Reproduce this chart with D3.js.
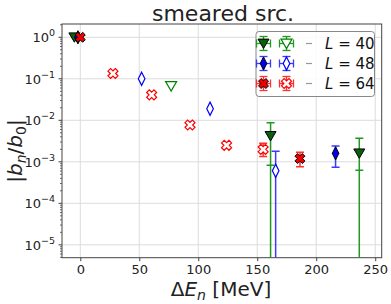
<!DOCTYPE html>
<html><head><meta charset="utf-8">
<script src="https://cdn.jsdelivr.net/npm/d3@7"></script>
<style>body{margin:0;background:#fff}svg{display:block;font-family:"DejaVu Sans",sans-serif}</style>
</head><body><svg id="c" width="391" height="304"></svg>
<script>
// ---- data ----
const xTicks = [0, 50, 100, 150, 200, 250];
const yTicksExp = [0, -1, -2, -3, -4, -5];
const seriesNames = ["40", "48", "64"];
// filled points: [dE, value, errLo, errHi, toBottom]
const L40_filled = [[-5, 1.0, null, null, 0], [161.3, 0.0042, 0.00083, 0.0087, 1], [236.5, 0.0016, 0.00063, 0.0037, 1]];
const L40_open = [[77, 0.067, null, null, 0]];
const L48_filled = [[-2, 1.0, null, null, 0], [216.4, 0.0016, 0.00074, 0.0024, 0]];
const L48_open = [[52, 0.1, null, null, 0], [110, 0.019, null, null, 0], [165.6, 0.00061, null, 0.0018, 1]];
const L64_filled = [[0, 1.0, null, null, 0], [186.2, 0.0012, 0.00076, 0.0017, 0]];
const L64_open = [[27.7, 0.134, null, null, 0], [60.5, 0.041, null, null, 0], [93, 0.0077, null, null, 0], [124, 0.0025, null, null, 0], [155, 0.002, 0.00135, 0.0028, 0]];

const svg = d3.select("#c");
const M = {l: 62, t: 24, r: 381.7, b: 257.7};
const x = d3.scaleLinear().domain([-15.5, 255.5]).range([M.l, M.r]);
const y = d3.scaleLog().domain([Math.pow(10, -5.31), Math.pow(10, 0.32)]).range([M.b, M.t]);

// grid
const g = svg.append("g");
g.selectAll("line.gx").data(xTicks).enter().append("line")
  .attr("x1", d => x(d)).attr("x2", d => x(d)).attr("y1", M.t).attr("y2", M.b)
  .attr("stroke", "#dcdcdc").attr("stroke-width", 1);
g.selectAll("line.gy").data(yTicksExp).enter().append("line")
  .attr("y1", d => y(Math.pow(10, d))).attr("y2", d => y(Math.pow(10, d))).attr("x1", M.l).attr("x2", M.r)
  .attr("stroke", "#dcdcdc").attr("stroke-width", 1);

// axes
const xAxis = d3.axisBottom(x).tickValues(xTicks).tickSize(3.5).tickPadding(4).tickFormat(d3.format("d"));
const gx = svg.append("g").attr("transform", `translate(0,${M.b})`).call(xAxis);
gx.select(".domain").remove();
gx.selectAll("line").attr("stroke", "#444");
gx.selectAll("text").attr("font-size", 13).attr("fill", "#222").attr("font-family", "DejaVu Sans");

const minor = [];
for (let e = -6; e <= 0; e++) for (let k = 2; k <= 9; k++) { const v = k * Math.pow(10, e); if (v >= y.domain()[0] && v <= y.domain()[1]) minor.push(v); }
const gy = svg.append("g").attr("transform", `translate(${M.l},0)`);
gy.selectAll("line.mn").data(minor).enter().append("line")
  .attr("x1", 0).attr("x2", -2).attr("y1", d => y(d)).attr("y2", d => y(d)).attr("stroke", "#444").attr("stroke-width", 0.8);
gy.selectAll("line.mj").data(yTicksExp).enter().append("line")
  .attr("x1", 0).attr("x2", -3.5).attr("y1", d => y(Math.pow(10, d))).attr("y2", d => y(Math.pow(10, d))).attr("stroke", "#444");
const yl = gy.selectAll("text.yl").data(yTicksExp).enter().append("text")
  .attr("x", -7).attr("y", d => y(Math.pow(10, d)) + 5).attr("text-anchor", "end").attr("fill", "#222").attr("font-size", 13);
yl.append("tspan").text("10");
yl.append("tspan").attr("dy", -6).attr("font-size", 9.5).text(d => d === 0 ? "0" : "\u2212" + (-d));

// frame
svg.append("rect").attr("x", M.l).attr("y", M.t).attr("width", M.r - M.l).attr("height", M.b - M.t)
  .attr("fill", "none").attr("stroke", "#444").attr("stroke-width", 1);

// marker paths
function triPath(s) { return `M${-s},${-s * 0.8}L${s},${-s * 0.8}L0,${s * 0.9}Z`; }
function diaPath(s) { return `M0,${-s * 1.2}L${s * 0.6},0L0,${s * 1.2}L${-s * 0.6},0Z`; }
function xPath(r) {
  const t = r * 0.36;
  const pts = [[-t, -r], [t, -r], [t, -t], [r, -t], [r, t], [t, t], [t, r], [-t, r], [-t, t], [-r, t], [-r, -t], [-t, -t]];
  const c = Math.SQRT1_2;
  return "M" + pts.map(p => [(p[0] - p[1]) * c, (p[0] + p[1]) * c].map(v => v.toFixed(2)).join(",")).join("L") + "Z";
}
const styles = {
  "40": {col: "#008000", err: "#1f9a1f", dark: "#0b5e0b", path: () => triPath(5.5)},
  "48": {col: "#0000ff", err: "#3a3aff", dark: "#0000ee", path: () => diaPath(5.5)},
  "64": {col: "#ff0000", err: "#ff3030", dark: "#ee0000", path: () => xPath(5.2)}
};

const plot = svg.append("g");
svg.append("clipPath").attr("id", "clip").append("rect").attr("x", M.l).attr("y", M.t).attr("width", M.r - M.l).attr("height", M.b - M.t);
plot.attr("clip-path", "url(#clip)");

function drawSeries(data, key, filled) {
  const st = styles[key];
  const eg = plot.append("g").attr("stroke", st.err).attr("stroke-width", 1.5);
  data.forEach(d => {
    const px = x(d[0]);
    const top = d[3] != null ? y(d[3]) : null;
    const lo = d[2] != null ? y(d[2]) : null;
    if (top == null && lo == null && !d[4]) return;
    const y1 = top != null ? top : y(d[1]);
    const y2 = d[4] ? M.b + 2 : (lo != null ? lo : y(d[1]));
    eg.append("line").attr("x1", px).attr("x2", px).attr("y1", y1).attr("y2", y2);
    if (top != null) eg.append("line").attr("x1", px - 4).attr("x2", px + 4).attr("y1", top).attr("y2", top);
    if (lo != null) eg.append("line").attr("x1", px - 4).attr("x2", px + 4).attr("y1", lo).attr("y2", lo);
  });
  plot.append("g").selectAll("path").data(data).enter().append("path")
    .attr("d", st.path())
    .attr("transform", d => `translate(${x(d[0])},${y(d[1])})`)
    .attr("fill", filled ? st.dark : "#fff")
    .attr("stroke", filled ? "#000" : st.col)
    .attr("stroke-width", filled ? 1 : 1.2);
}
drawSeries(L64_open, "64", false);
drawSeries(L48_open, "48", false);
drawSeries(L40_open, "40", false);
drawSeries(L40_filled, "40", true);
drawSeries(L48_filled, "48", true);
drawSeries(L64_filled, "64", true);

// legend
const lg = svg.append("g");
lg.append("rect").attr("x", 256).attr("y", 31.5).attr("width", 118.5).attr("height", 65).attr("rx", 3)
  .attr("fill", "#fff").attr("fill-opacity", 0.85).attr("stroke", "#888").attr("stroke-width", 1);
seriesNames.forEach((k, i) => {
  const st = styles[k];
  const cy = 43.5 + i * 20;
  [[263.5, true], [286.5, false]].forEach(([cx, filled]) => {
    const e = lg.append("g").attr("stroke", st.err).attr("stroke-width", 1.3);
    e.append("line").attr("x1", cx - 7).attr("x2", cx + 7).attr("y1", cy).attr("y2", cy);
    e.append("line").attr("x1", cx - 7).attr("x2", cx - 7).attr("y1", cy - 4).attr("y2", cy + 4);
    e.append("line").attr("x1", cx + 7).attr("x2", cx + 7).attr("y1", cy - 4).attr("y2", cy + 4);
    e.append("line").attr("x1", cx).attr("x2", cx).attr("y1", cy - 7).attr("y2", cy + 7);
    e.append("line").attr("x1", cx - 4).attr("x2", cx + 4).attr("y1", cy - 7).attr("y2", cy - 7);
    e.append("line").attr("x1", cx - 4).attr("x2", cx + 4).attr("y1", cy + 7).attr("y2", cy + 7);
    lg.append("path").attr("d", st.path()).attr("transform", `translate(${cx},${cy})`)
      .attr("fill", filled ? st.dark : "#fff").attr("stroke", filled ? "#000" : st.col).attr("stroke-width", filled ? 1 : 1.2);
  });
  lg.append("line").attr("x1", 306).attr("x2", 312).attr("y1", cy).attr("y2", cy).attr("stroke", "#999").attr("stroke-width", 1.2);
  const t = lg.append("text").attr("x", 325).attr("y", cy + 5.5).attr("font-size", 15).attr("fill", "#111");
  t.append("tspan").attr("font-style", "italic").text("L");
  t.append("tspan").text(" = " + k);
});

// title and labels
svg.append("text").attr("x", 223).attr("y", 21).attr("text-anchor", "middle").attr("font-size", 22).attr("fill", "#222").text("smeared src.");
const xl = svg.append("text").attr("x", 221).attr("y", 296).attr("text-anchor", "middle").attr("font-size", 20).attr("fill", "#222");
xl.append("tspan").text("\u0394");
xl.append("tspan").attr("font-style", "italic").text("E");
xl.append("tspan").attr("font-style", "italic").attr("font-size", 14).attr("dy", 4).text("n");
xl.append("tspan").attr("dy", -4).text(" [MeV]");
const ylab = svg.append("text").attr("transform", "translate(22,151) rotate(-90)").attr("text-anchor", "middle").attr("font-size", 20).attr("fill", "#222");
ylab.append("tspan").text("|");
ylab.append("tspan").attr("font-style", "italic").text("b");
ylab.append("tspan").attr("font-style", "italic").attr("font-size", 14).attr("dy", 4).text("n");
ylab.append("tspan").attr("dy", -4).text("/");
ylab.append("tspan").attr("font-style", "italic").text("b");
ylab.append("tspan").attr("font-size", 14).attr("dy", 4).text("0");
ylab.append("tspan").attr("dy", -4).text("|");
</script></body></html>
